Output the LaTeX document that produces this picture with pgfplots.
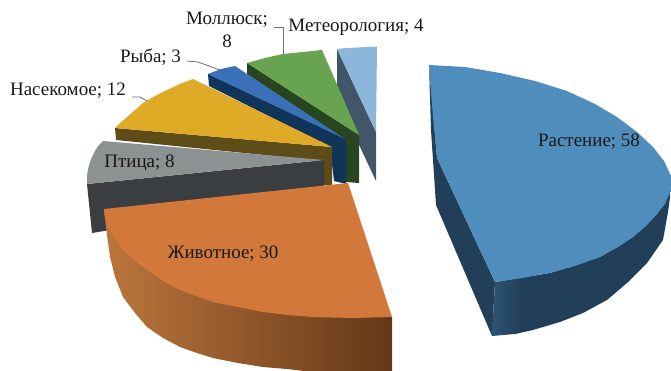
\documentclass[border=0pt]{standalone}
\usepackage{fontspec}
\setmainfont{Liberation Serif}
\usepackage{pgfplots}
\pgfplotsset{compat=1.18}
\definecolor{plantTop}{HTML}{4F8EBC}
\definecolor{plantSide}{HTML}{213F58}
\definecolor{plantEdge}{HTML}{2D5374}
\definecolor{animalTop}{HTML}{D2783B}
\definecolor{animalL}{HTML}{BC763B}
\definecolor{animalR}{HTML}{633819}
\definecolor{birdTop}{HTML}{8C9191}
\definecolor{birdSide}{HTML}{3A3E41}
\definecolor{insectTop}{HTML}{DFAB27}
\definecolor{insectSide}{HTML}{5E4C18}
\definecolor{fishTop}{HTML}{3A70B8}
\definecolor{fishSide}{HTML}{11345A}
\definecolor{molluscTop}{HTML}{68A350}
\definecolor{molluscSide}{HTML}{27451F}
\definecolor{meteoTop}{HTML}{8CB6DA}
\definecolor{meteoSide}{HTML}{42566A}
\definecolor{leader}{HTML}{6E6E6E}
\pgfdeclarehorizontalshading{animalshade}{100bp}{color(0bp)=(animalL); color(25bp)=(animalL); color(75bp)=(animalR); color(100bp)=(animalR)}
\pgfdeclarehorizontalshading{plantshade}{100bp}{color(0bp)=(plantEdge); color(25bp)=(plantEdge); color(33bp)=(plantSide); color(100bp)=(plantSide)}
\tikzset{lbl/.style={font=\fontsize{19}{22}\selectfont, text=black!90, inner sep=0pt, anchor=center}}
\begin{document}
\begin{tikzpicture}
\useasboundingbox (0,0) rectangle (671pt,371pt);
\begin{axis}[
  at={(0,0)}, anchor=south west,
  scale only axis, width=671pt, height=371pt,
  xmin=0, xmax=671, ymin=0, ymax=371, y dir=reverse,
  hide axis, clip=true,
  every axis plot/.append style={draw=none, no markers, line join=round},
]
% Meteorology wedge
\addplot[fill=meteoSide] coordinates {(337,49) (337,98) (376,181) (376,132)} --cycle;
\addplot[fill=meteoTop] coordinates {(337,49) (347,48) (357,47.5) (367,47) (377,46.5) (376,132)} --cycle;
% Mollusc wedge
\addplot[fill=molluscSide] coordinates {(247,63) (247,74) (345,140) (346,182) (359,183) (359,135)} --cycle;
\addplot[fill=molluscTop] coordinates {(247,63) (265,58) (283,54) (303,52) (322,50) (359,135)} --cycle;
% Fish wedge
\addplot[fill=fishSide] coordinates {(208,74) (209,86) (330,147) (334,181) (346,184) (346,139)} --cycle;
\addplot[fill=fishTop] coordinates {(208,74) (221,69) (235,66) (345,139)} --cycle;
% Insect wedge
\addplot[fill=insectSide] coordinates {(115,128) (116,140) (323,161) (323,185) (332,185) (332,147)} --cycle;
\addplot[fill=insectTop] coordinates {(193,79) (180,84) (167,90) (155,96) (143,103) (135,110) (127,117) (120,123) (115,128) (332,147)} --cycle;
% Bird wedge
\addplot[fill=birdSide] coordinates {(87,184) (324,160) (324,195) (92,233)} --cycle;
\addplot[fill=birdTop] coordinates {(103,141) (98,146) (95,151) (92,157) (90,162) (88,169) (87,176) (87,184) (324,160)} --cycle;
% Animal wedge
\addplot[shading=animalshade] coordinates {(104,209) (107,235) (110,257) (115,277) (123,297) (135,313) (147,327) (163,338) (180,347) (197,353) (213,358) (238,363) (263,367) (287,369) (313,372) (392,372) (392,317) (313,317) (104,209)} --cycle;
\addplot[fill=animalTop] coordinates {(348,183) (104,209) (105,218) (108,227) (115,239) (123,250) (134,260) (147,270) (163,281) (180,290) (196,296) (213,302) (238,307) (263,312) (288,315) (313,317) (352,318) (392,317)} --cycle;
% Plant wedge
\addplot[fill=plantSide] coordinates {(429,65) (431,130) (436,205) (492,336) (495,282) (437,158)} --cycle;
\addplot[shading=plantshade] coordinates {(495,282) (492,336) (515,334) (533,330) (560,322) (583,313) (607,300) (627,283) (647,263) (663,240) (668,212) (671,190) (657,214) (633,237) (600,257) (550,273)} --cycle;
\addplot[fill=plantTop] coordinates {(429,65) (465,67) (500,73) (535,81) (567,91) (595,104) (617,117) (637,132) (653,147) (664,161) (671,176) (671,190) (665,204) (657,214) (646,226) (633,237) (618,247) (600,257) (575,266) (550,273) (522,278) (495,282) (437,158) (433,117)} --cycle;
% Leader lines
\addplot[draw=leader, line width=0.8pt] coordinates {(274,27) (283,27) (283,54)};
\addplot[draw=leader, line width=0.8pt] coordinates {(187,61) (198,62) (220,70)};
\addplot[draw=leader, line width=0.8pt] coordinates {(132,97) (140,97) (147,101)};
% Category labels
\node[lbl] at (axis cs:356,27) {Метеорология; 4};
\node[lbl] at (axis cs:227,20) {Моллюск;};
\node[lbl] at (axis cs:227,41) {8};
\node[lbl] at (axis cs:150.5,57) {Рыба; 3};
\node[lbl] at (axis cs:68,91) {Насекомое; 12};
\node[lbl] at (axis cs:139.5,163) {Птица; 8};
\node[lbl] at (axis cs:223,254) {Животное; 30};
\node[lbl] at (axis cs:589,142) {Растение; 58};
\end{axis}
\end{tikzpicture}
\end{document}
